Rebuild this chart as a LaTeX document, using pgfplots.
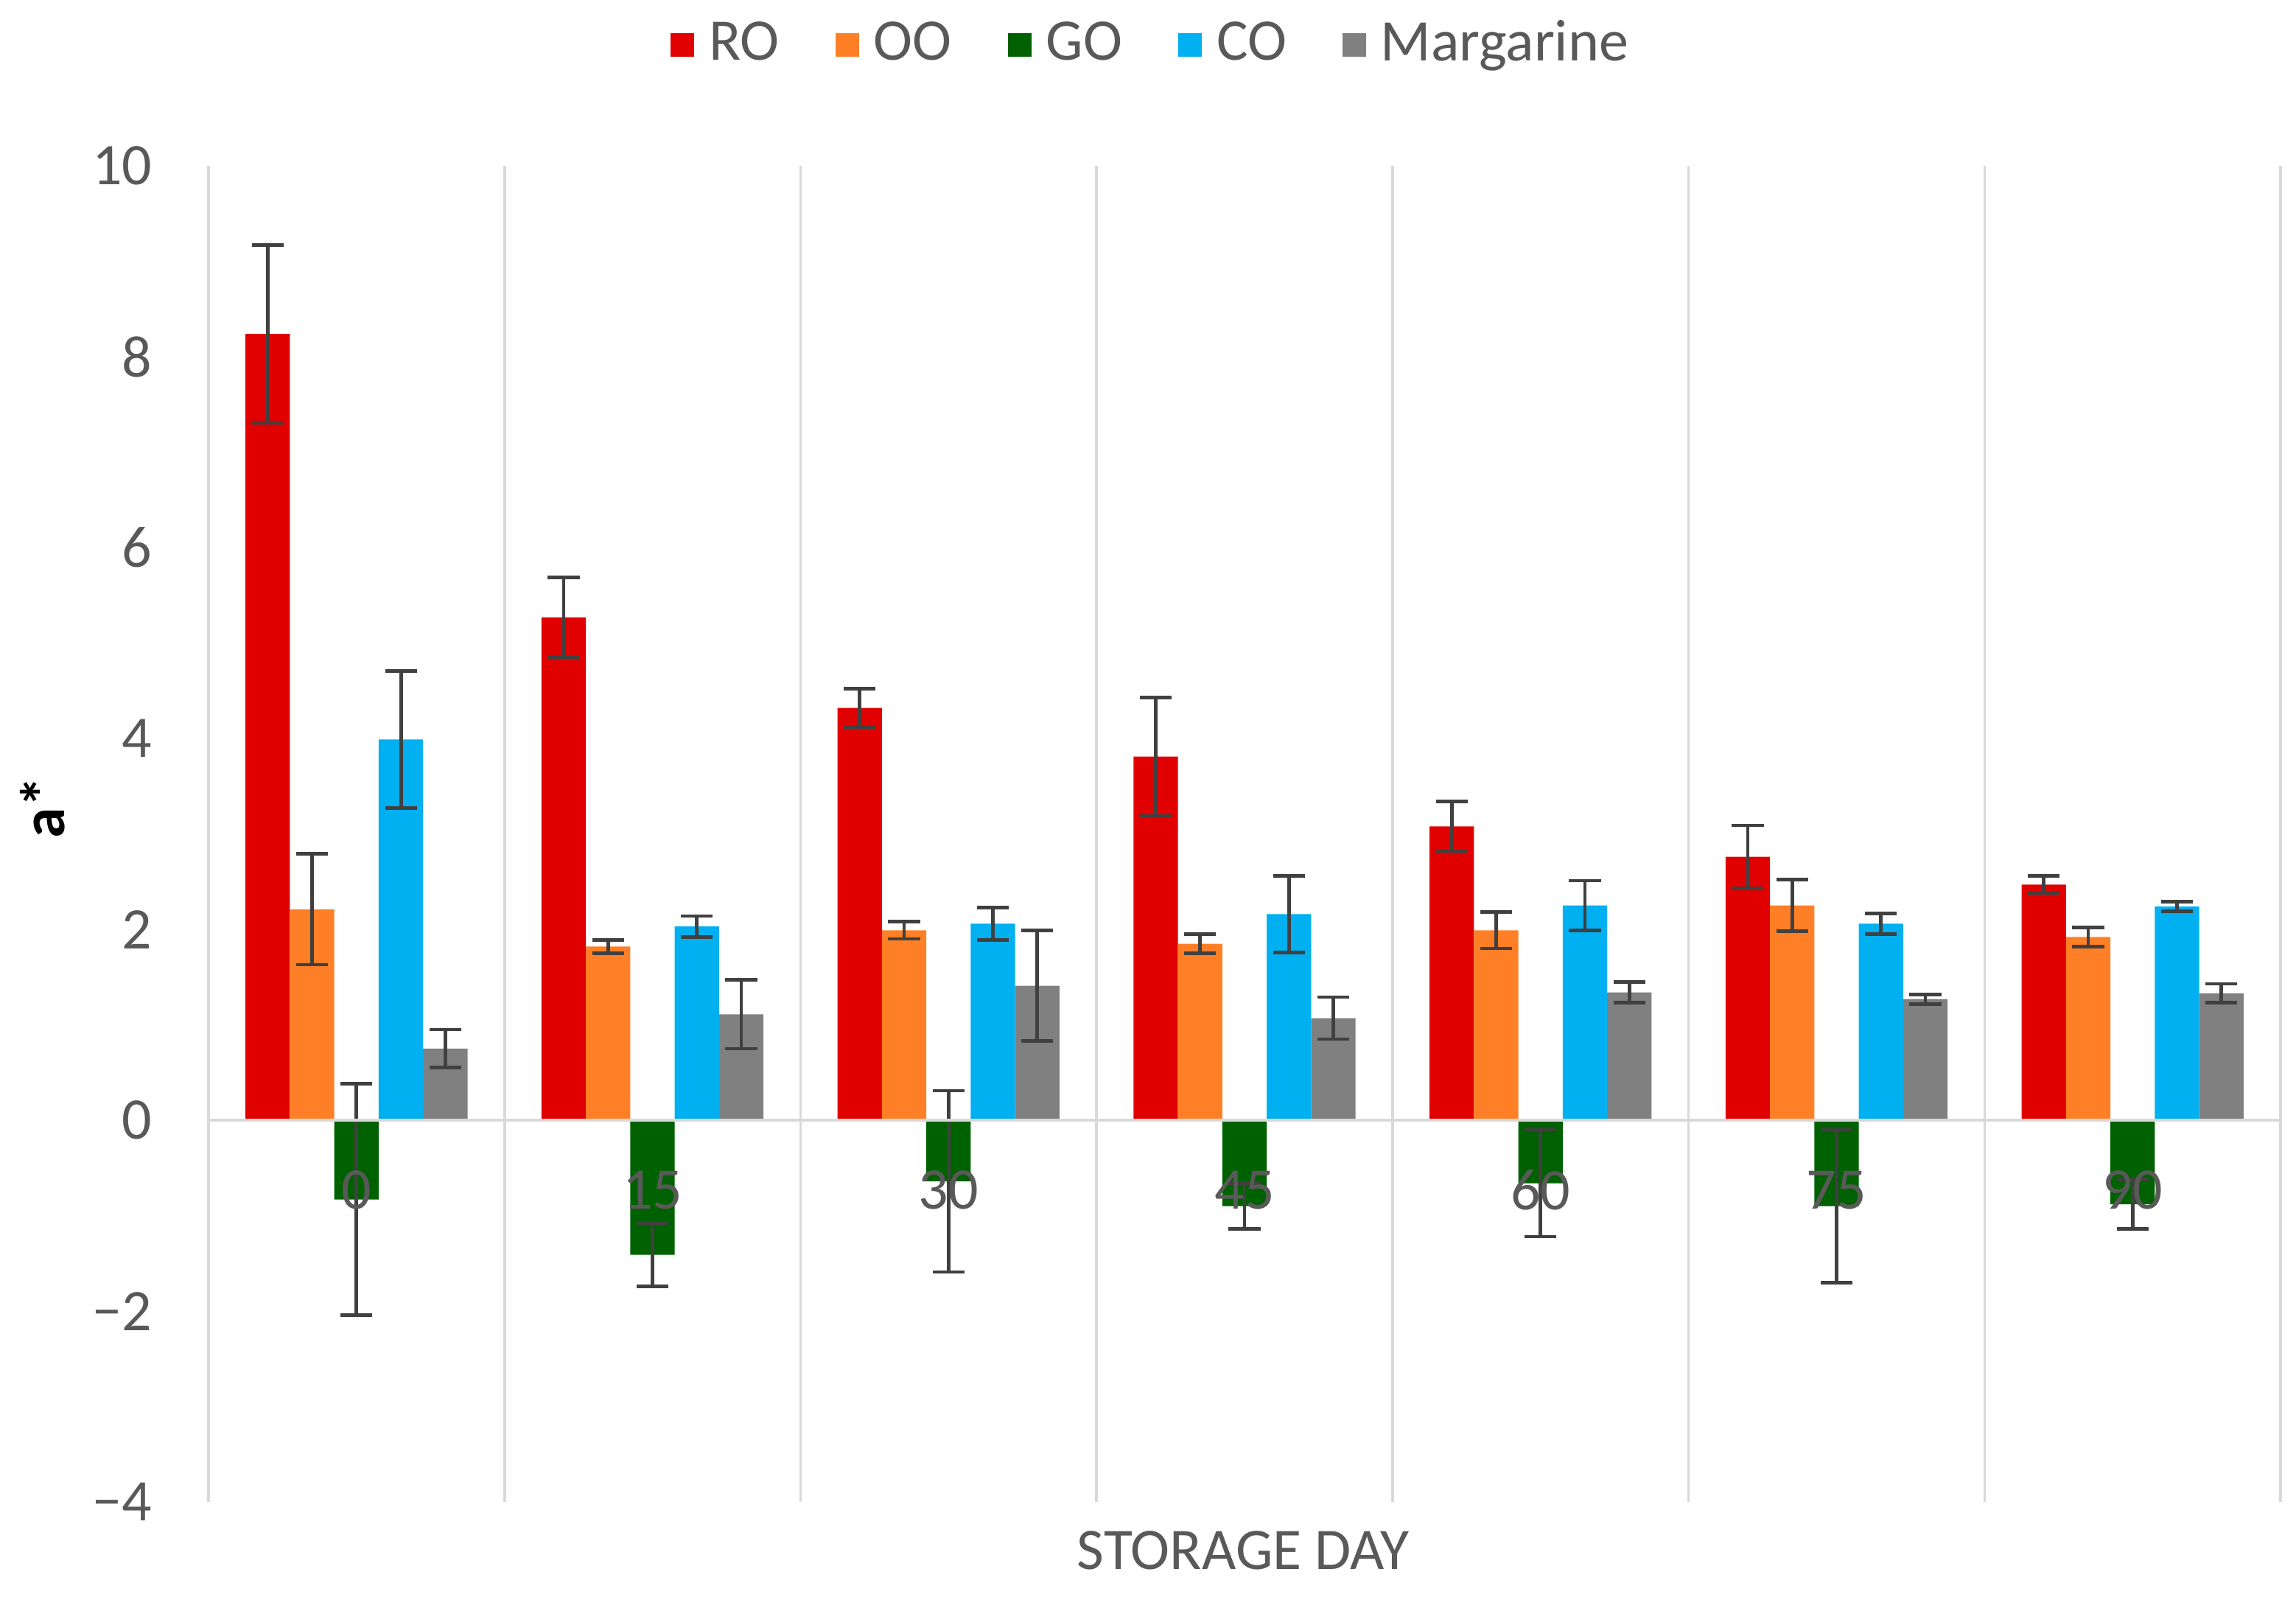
\documentclass[border=0pt]{standalone}
\usepackage{pgfplots}
\usepackage{pgfplotstable}
\pgfplotsset{compat=1.18}
\usepackage{fontspec}
\setmainfont{Carlito}
\definecolor{cRO}{HTML}{E00000}
\definecolor{cOO}{HTML}{FF7F27}
\definecolor{cGO}{HTML}{006100}
\definecolor{cCO}{HTML}{00B0F0}
\definecolor{cMA}{HTML}{808080}
\definecolor{gridgray}{HTML}{D9D9D9}
\definecolor{labelgray}{HTML}{595959}
\definecolor{errgray}{HTML}{404040}

\pgfplotstableread{
x y e
0 8.24 0.93
1 5.27 0.42
2 4.32 0.20
3 3.81 0.62
4 3.08 0.26
5 2.76 0.33
6 2.47 0.09
}\RO
\pgfplotstableread{
x y e
0 2.21 0.58
1 1.82 0.07
2 1.99 0.09
3 1.85 0.10
4 1.99 0.19
5 2.25 0.27
6 1.92 0.10
}\OO
\pgfplotstableread{
x y e
0 -0.83 1.21
1 -1.41 0.33
2 -0.64 0.95
3 -0.90 0.24
4 -0.66 0.56
5 -0.90 0.80
6 -0.88 0.26
}\GO
\pgfplotstableread{
x y e
0 3.99 0.72
1 2.03 0.11
2 2.06 0.17
3 2.16 0.40
4 2.25 0.26
5 2.06 0.11
6 2.24 0.05
}\CO
\pgfplotstableread{
x y e
0 0.75 0.20
1 1.11 0.36
2 1.41 0.58
3 1.07 0.22
4 1.34 0.11
5 1.27 0.05
6 1.33 0.10
}\MA

\begin{document}
\begin{tikzpicture}
\begin{axis}[
  scale only axis,
  width=351.5pt, height=226.6pt,
  xmin=-0.5, xmax=6.5,
  ymin=-4, ymax=10,
  ybar, bar width=0.15,
  axis on top,
  axis line style={draw=none},
  major tick length=0pt, minor tick length=0pt,
  xtick={0,1,2,3,4,5,6},
  xticklabels={0,15,30,45,60,75,90},
  minor xtick={-0.5,0.5,1.5,2.5,3.5,4.5,5.5,6.5},
  xminorgrids=true,
  minor grid style={draw=gridgray, line width=0.45pt},
  ytick={-4,-2,0,2,4,6,8,10},
  yticklabels={−4,−2,0,2,4,6,8,10},
  extra y ticks={0},
  extra y tick labels={},
  extra y tick style={grid=major, major grid style={draw=gridgray, line width=0.45pt}},
  tick label style={font=\fontsize{10}{12}\selectfont, text=labelgray},
  yticklabel style={inner sep=0pt, anchor=east, xshift=-9.4pt},
  xticklabel style={inner sep=0pt, anchor=center, yshift=52.9pt},
  ylabel={a*},
  ylabel style={font=\fontsize{10.5}{12}\selectfont\bfseries, text=black,
    at={(axis description cs:-0.080,0.520)}, anchor=center, rotate=0},
  xlabel={STORAGE DAY},
  xlabel style={font=\fontsize{10}{12}\selectfont, text=labelgray,
    at={(axis description cs:0.4993,-0.0364)}, anchor=center},
  legend columns=5,
  legend style={draw=none, fill=none,
    at={(axis description cs:0.4577,1.0905)}, anchor=center,
    font=\fontsize{10}{12}\selectfont, text=labelgray,
    /tikz/every even column/.append style={column sep=7pt},
    /tikz/every node/.append style={inner xsep=2.5pt}},
  legend image code/.code={\fill[#1,draw=none] (0pt,-2pt) rectangle (4pt,2pt);},
  error bars/y dir=both,
  error bars/y explicit,
  error bars/error mark=|,
  error bars/error bar style={draw=errgray, line width=0.6pt},
  error bars/error mark options={draw=errgray, line width=0.6pt, mark size=2.7pt},
]
\addplot[fill=cRO, draw=none, bar shift=-0.3] table[x=x, y=y, y error=e] {\RO};
\addplot[fill=cOO, draw=none, bar shift=-0.15] table[x=x, y=y, y error=e] {\OO};
\addplot[fill=cGO, draw=none, bar shift=0] table[x=x, y=y, y error=e] {\GO};
\addplot[fill=cCO, draw=none, bar shift=0.15] table[x=x, y=y, y error=e] {\CO};
\addplot[fill=cMA, draw=none, bar shift=0.3] table[x=x, y=y, y error=e] {\MA};
\legend{RO,OO,GO,CO,Margarine}
\end{axis}
\pgfresetboundingbox
\path (current axis.south west) ++(-35.375pt,-16pt) rectangle ++(389.5pt,270.75pt);
\end{tikzpicture}
\end{document}
